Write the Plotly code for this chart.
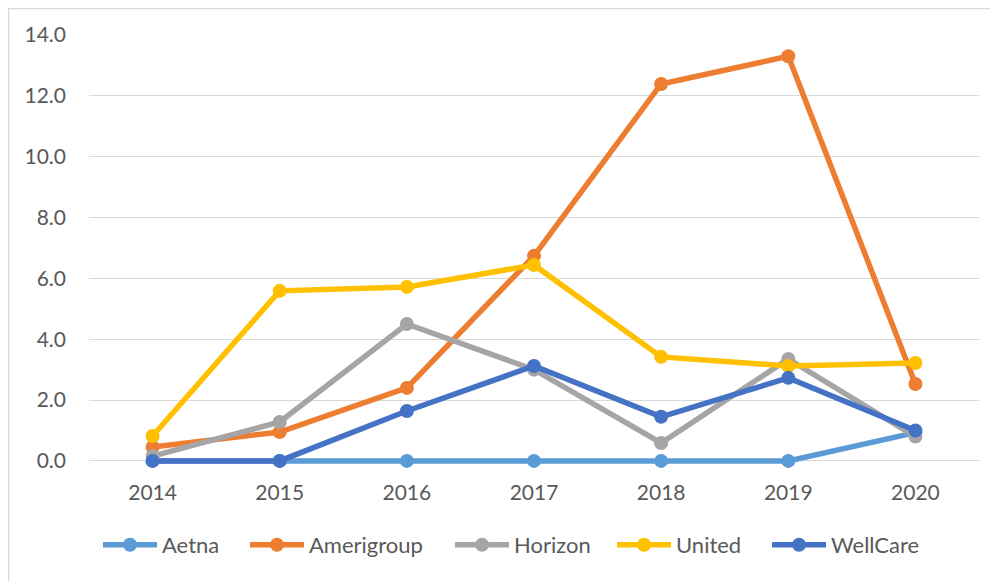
import plotly.graph_objects as go

years = ["2014", "2015", "2016", "2017", "2018", "2019", "2020"]
aetna = [0, 0, 0, 0, 0, 0, 0.93]
amerigroup = [0.46, 0.95, 2.4, 6.74, 12.39, 13.3, 2.53]
horizon = [0.16, 1.28, 4.5, 3.0, 0.59, 3.35, 0.8]
united = [0.82, 5.59, 5.72, 6.44, 3.42, 3.12, 3.22]
wellcare = [0, 0, 1.64, 3.12, 1.45, 2.73, 1.0]

series = [
    ("Aetna", aetna, "#5B9BD5"),
    ("Amerigroup", amerigroup, "#ED7D31"),
    ("Horizon", horizon, "#A5A5A5"),
    ("United", united, "#FFC000"),
    ("WellCare", wellcare, "#4472C4"),
]
legend_px = [103, 250, 455, 617, 772]  # left pixel of each legend entry

# plot area: y from -0.2 to 14 so that lines at 0 are not clipped
Y_MIN, Y_MAX = -0.2, 14
L, T, W = 81, 27, 890
PX_PER_UNIT = 426 / 14
H = round((Y_MAX - Y_MIN) * PX_PER_UNIT)
font_family = "Lato, 'Open Sans', sans-serif"

fig = go.Figure()
legend_layouts = {}
for i, (name, vals, color) in enumerate(series):
    lname = "legend" if i == 0 else f"legend{i + 1}"
    fig.add_trace(go.Scatter(
        x=years, y=vals, name=name, mode="lines+markers",
        line=dict(color=color, width=5.5),
        marker=dict(color=color, size=14),
        cliponaxis=False, legend=lname,
    ))
    legend_layouts[lname] = dict(
        orientation="h", x=(legend_px[i] - 13 - L) / W, xanchor="left",
        y=-(537 - (T + H)) / H, yanchor="middle", bgcolor="rgba(0,0,0,0)",
        font=dict(size=22, color="#595959", family=font_family), itemwidth=54,
    )

fig.update_layout(
    width=998, height=581,
    margin=dict(l=L, r=998 - L - W, t=T, b=581 - T - H),
    paper_bgcolor="white", plot_bgcolor="white",
    font=dict(family=font_family, size=21, color="#595959"),
    showlegend=True,
    xaxis=dict(type="category", range=[-0.5, 6.5], showgrid=False, zeroline=False,
               showline=False, ticks="", tickfont=dict(size=21, color="#595959")),
    yaxis=dict(range=[Y_MIN, Y_MAX], tick0=0, dtick=2, tickformat=".1f", showgrid=True,
               gridcolor="#D9D9D9", gridwidth=1.3, zeroline=False, showline=False,
               ticks="", ticklen=0, tickfont=dict(size=21, color="#595959")),
    shapes=[
        dict(type="line", xref="paper", yref="paper",
             x0=(0.5 - L) / W, x1=(0.5 - L) / W, y0=(H + T) / H, y1=-(581 - T - H) / H,
             line=dict(color="#D9D9D9", width=1.5)),
        dict(type="line", xref="paper", yref="paper",
             x0=(0 - L) / W, x1=(998 - L) / W, y0=(H + T - 0.5) / H, y1=(H + T - 0.5) / H,
             line=dict(color="#D9D9D9", width=1.5)),
    ],
    **legend_layouts,
)
fig.update_yaxes(ticklabelstandoff=22)
fig.update_xaxes(ticklabelstandoff=11)

fig.write_html("out.html")
